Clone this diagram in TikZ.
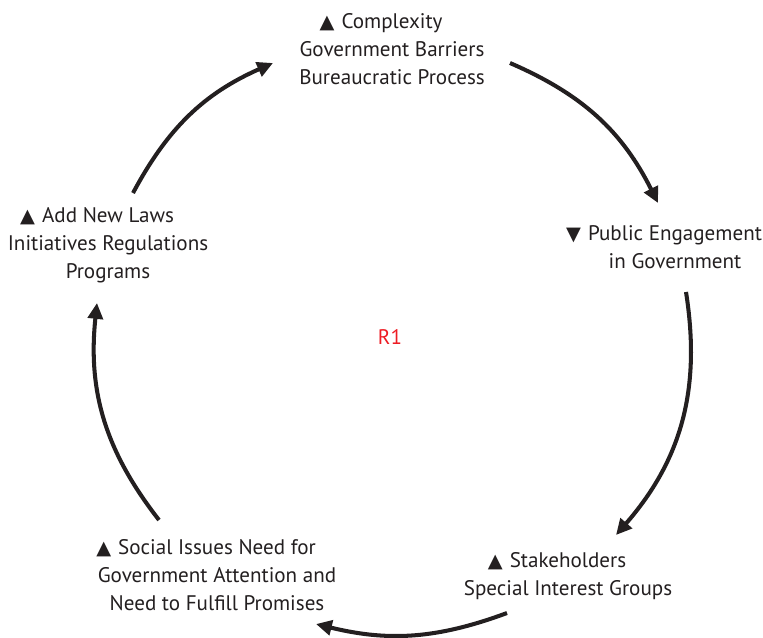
\documentclass[tikz,border=0pt]{standalone}
\usepackage{fontspec}
\setmainfont{PT Sans}
\newfontfamily\symfont{DejaVu Sans}
\usetikzlibrary{arrows.meta}

\definecolor{ink}{HTML}{231F20}
\definecolor{loopred}{HTML}{ED1C24}
\newcommand{\upmark}{\llap{{\symfont\fontsize{11}{11}\selectfont ▲}\hspace{4pt}}}
\newcommand{\downmark}{\llap{{\symfont\fontsize{11}{11}\selectfont ▼}\hspace{4pt}}}

\begin{document}
\begin{tikzpicture}[x=0.02cm, y=-0.02cm,
    var/.style={align=center, text=ink, font=\fontsize{12}{15.9}\selectfont, inner sep=2pt},
    link/.style={draw=ink, line width=2.3pt, -{Triangle[length=9pt,width=8.5pt]}}]
    \useasboundingbox (0,0) rectangle (763,637);

    % Variables.
    \node[var] (cx) at (392,49) {\upmark Complexity\\Government Barriers\\Bureaucratic Process};
    \node[var] (pe) at (675,247) {\downmark Public Engagement\\in Government};
    \node[var] (sh) at (568,576) {\upmark Stakeholders\\Special Interest Groups};
    \node[var] (si) at (217,575) {\upmark Social Issues Need for\\Government Attention and\\Need to Fulfill Promises};
    \node[var] (nl) at (108,245) {\upmark Add New Laws\\Initiatives Regulations\\Programs};
    \node[var, text=loopred] (r1) at (390,337) {R1};

    % Arrow ends.
    \coordinate (cx-out) at (510,63);
    \coordinate (pe-in) at (658,203);
    \coordinate (pe-out) at (686,292);
    \coordinate (sh-in) at (616,535);
    \coordinate (sh-out) at (507,613);
    \coordinate (si-in) at (316,624);
    \coordinate (si-out) at (159,520);
    \coordinate (nl-in) at (97,303);
    \coordinate (nl-out) at (133,193);
    \coordinate (cx-in) at (273,63);

    % Loop.
    \draw[link] (cx-out) to[bend left=20] (pe-in);
    \draw[link] (pe-out) to[bend left=25] (sh-in);
    \draw[link] (sh-out) to[bend left=17] (si-in);
    \draw[link] (si-out) to[bend left=22] (nl-in);
    \draw[link] (nl-out) to[bend left=19] (cx-in);
\end{tikzpicture}
\end{document}
